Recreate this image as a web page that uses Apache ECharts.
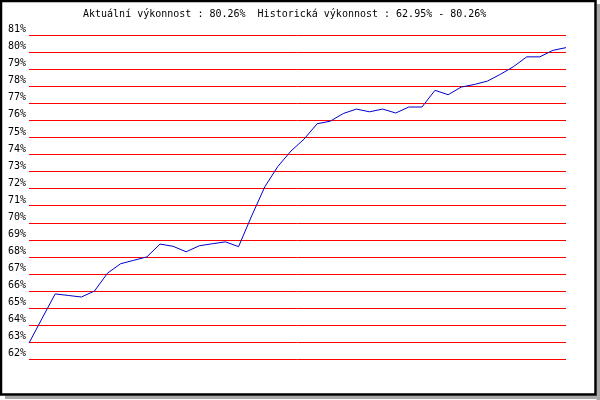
<!DOCTYPE html>
<html>
<head>
<meta charset="utf-8">
<script src="https://cdn.jsdelivr.net/npm/echarts@6/dist/echarts.min.js"></script>
<style>html,body{margin:0;padding:0;background:#fff}#c{width:600px;height:400px}</style>
</head>
<body>
<div id="c"></div>
<script>
const titleText = 'Aktuální výkonnost : 80.26%  Historická výkonnost : 62.95% - 80.26%';
const categories = [];
for (let i = 1; i <= 42; i++) categories.push(String(i));
const performance = [
  62.95, 64.4, 65.83, 65.74, 65.65, 66.0, 67.05, 67.6, 67.8, 68.0,
  68.75, 68.62, 68.3, 68.65, 68.77, 68.88, 68.6, 70.4, 72.1, 73.3,
  74.2, 74.9, 75.8, 75.95, 76.4, 76.66, 76.5, 76.66, 76.43, 76.78,
  76.78, 77.76, 77.5, 77.95, 78.1, 78.3, 78.7, 79.15, 79.72, 79.72,
  80.1, 80.26
];
const yMin = 62, yMax = 81, yStep = 1;

const chart = echarts.init(document.getElementById('c'));
const font = 'DejaVu Sans Mono';
chart.setOption({
  backgroundColor: '#fff',
  animation: false,
  title: {
    text: titleText,
    left: 83, top: 8, padding: 0,
    textStyle: { fontFamily: font, fontSize: 10, fontWeight: 'normal', color: '#000', lineHeight: 12 }
  },
  grid: { left: 29, right: 34, top: 35, bottom: 40.7, containLabel: false },
  xAxis: {
    type: 'category', data: categories, boundaryGap: false,
    axisLine: { show: false }, axisTick: { show: false }, axisLabel: { show: false }, splitLine: { show: false }
  },
  yAxis: {
    type: 'value', min: yMin, max: yMax, interval: yStep,
    axisLine: { show: false }, axisTick: { show: false },
    axisLabel: {
      formatter: v => v + '%', fontFamily: font, fontSize: 10, color: '#000',
      margin: 3, verticalAlign: 'bottom', lineHeight: 11, padding: 0
    },
    splitLine: { show: true, lineStyle: { color: '#ff0000', width: 1 } }
  },
  series: [{
    type: 'line', data: performance, symbol: 'none',
    lineStyle: { color: '#0000cc', width: 1 }
  }],
  graphic: [
    { type: 'rect', shape: { x: 596.5, y: 4, width: 3.5, height: 396 }, style: { fill: '#a8a8a8' }, silent: true },
    { type: 'rect', shape: { x: 5, y: 395.5, width: 595, height: 3.5 }, style: { fill: '#a8a8a8' }, silent: true },
    { type: 'rect', shape: { x: 1, y: 1, width: 594.5, height: 393.5 }, style: { fill: 'none', stroke: '#000', lineWidth: 2.5 }, silent: true }
  ]
});
</script>
</body>
</html>
